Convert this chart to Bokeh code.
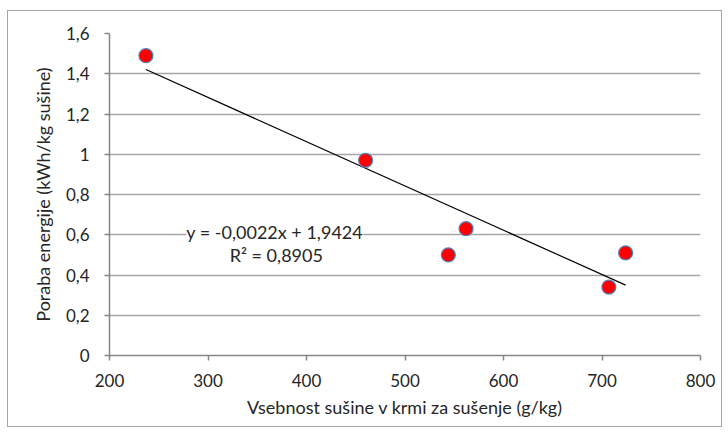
from bokeh.plotting import figure
from bokeh.models import FixedTicker, Label, Range1d
from bokeh.embed import file_html
from bokeh.resources import INLINE

# data
dry_matter = [237, 460, 544, 562, 707, 724]
energy = [1.49, 0.97, 0.50, 0.63, 0.34, 0.51]
x_ticks = [200, 300, 400, 500, 600, 700, 800]
y_ticks = [0, 0.2, 0.4, 0.6, 0.8, 1.0, 1.2, 1.4, 1.6]
y_tick_labels = ["0", "0,2", "0,4", "0,6", "0,8", "1", "1,2", "1,4", "1,6"]
slope = -0.0022
intercept = 1.9424
eq_text = "y = -0,0022x + 1,9424"
r2_text = "R² = 0,8905"

FONT = "Lato"
GRAY = "#A6A6A6"
AXIS_GRAY = "#868686"
TEXT = "#262626"

p = figure(output_backend="svg", toolbar_location=None,
           frame_width=591, frame_height=322,
           min_border_left=101, min_border_top=22, min_border_right=21, min_border_bottom=71,
           x_range=Range1d(200, 800), y_range=Range1d(0, 1.6),
           margin=(10, 0, 0, 7))
p.styles = {"border": "1px solid #A6A6A6"}
p.outline_line_color = None
p.background_fill_color = "white"
p.border_fill_color = "white"

p.xgrid.grid_line_color = None
p.ygrid.grid_line_color = GRAY
p.ygrid.grid_line_width = 1.5

p.xaxis.ticker = FixedTicker(ticks=x_ticks)
p.yaxis.ticker = FixedTicker(ticks=y_ticks)
p.yaxis.major_label_overrides = {t: l for t, l in zip(y_ticks, y_tick_labels)}
p.yaxis.major_label_overrides[1] = "1"
for ax in (p.xaxis, p.yaxis):
    ax.axis_line_color = AXIS_GRAY
    ax.axis_line_width = 1.5
    ax.major_tick_line_color = AXIS_GRAY
    ax.major_tick_line_width = 1.5
    ax.major_tick_out = 5
    ax.major_tick_in = 0
    ax.minor_tick_line_color = None
    ax.major_label_text_font = FONT
    ax.major_label_text_font_size = "17px"
    ax.major_label_text_color = TEXT
    ax.axis_label_text_font = FONT
    ax.axis_label_text_font_size = "18px"
    ax.axis_label_text_font_style = "normal"
    ax.axis_label_text_color = TEXT
p.xaxis.axis_label = "Vsebnost sušine v krmi za sušenje (g/kg)"
p.yaxis.axis_label = "Poraba energije (kWh/kg sušine)"
p.xaxis.major_label_standoff = 13
p.xaxis.axis_label_standoff = 6
p.yaxis.major_label_standoff = 15
p.yaxis.axis_label_standoff = 9

# trend line from the stated regression
x0, x1 = min(dry_matter), max(dry_matter)
p.line([x0, x1], [slope * x0 + intercept, slope * x1 + intercept],
       line_color="black", line_width=1.2)

p.scatter(dry_matter, energy, size=14, fill_color="#FF0000",
          line_color="#4F81BD", line_width=1.2)

p.add_layout(Label(x=278, y=0.6, x_units="data", y_units="data", text=eq_text,
                   text_font=FONT, text_font_size="18px", text_color=TEXT,
                   text_baseline="middle", text_align="left", y_offset=3,
                   background_fill_color="white"))
p.add_layout(Label(x=322, y=0.6, text=r2_text, y_offset=-20,
                   text_font=FONT, text_font_size="18px", text_color=TEXT,
                   text_baseline="middle", text_align="left"))

open("out.html", "w").write(file_html(p, INLINE))
